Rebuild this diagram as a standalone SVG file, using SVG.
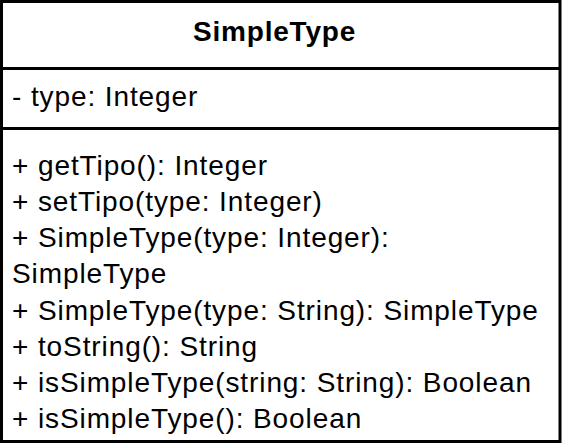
<svg xmlns="http://www.w3.org/2000/svg" width="564" height="448" viewBox="0 0 564 448">
  <style>
    .frame { fill: #ffffff; stroke: #000000; stroke-width: 3; }
    .rule { stroke: #000000; stroke-width: 3; }
    .title { font-family: "Liberation Sans", Arial, sans-serif; font-size: 28px; font-weight: bold; letter-spacing: 0.8px; fill: #000000; }
    .member { font-family: "Liberation Sans", Arial, sans-serif; font-size: 28px; letter-spacing: 0.9px; fill: #000000; }
  </style>
  <rect width="564" height="448" fill="#ffffff"/>
  <!-- UML class box: SimpleType -->
  <g id="SimpleType">
    <rect class="frame" x="1.5" y="1.5" width="558.5" height="440"/>
    <line class="rule" x1="1.5" y1="68.5" x2="560" y2="68.5"/>
    <line class="rule" x1="1.5" y1="128.5" x2="560" y2="128.5"/>
    <text class="title" x="193" y="41">SimpleType</text>
    <!-- attributes -->
    <text class="member" x="12" y="106">- type: Integer</text>
    <!-- operations -->
    <text class="member" x="12" y="175">+ getTipo(): Integer</text>
    <text class="member" x="12" y="211">+ setTipo(type: Integer)</text>
    <text class="member" x="12" y="247">+ SimpleType(type: Integer):</text>
    <text class="member" x="12" y="283">SimpleType</text>
    <text class="member" x="12" y="320">+ SimpleType(type: String): SimpleType</text>
    <text class="member" x="12" y="356">+ toString(): String</text>
    <text class="member" x="12" y="392">+ isSimpleType(string: String): Boolean</text>
    <text class="member" x="12" y="428">+ isSimpleType(): Boolean</text>
  </g>
</svg>
